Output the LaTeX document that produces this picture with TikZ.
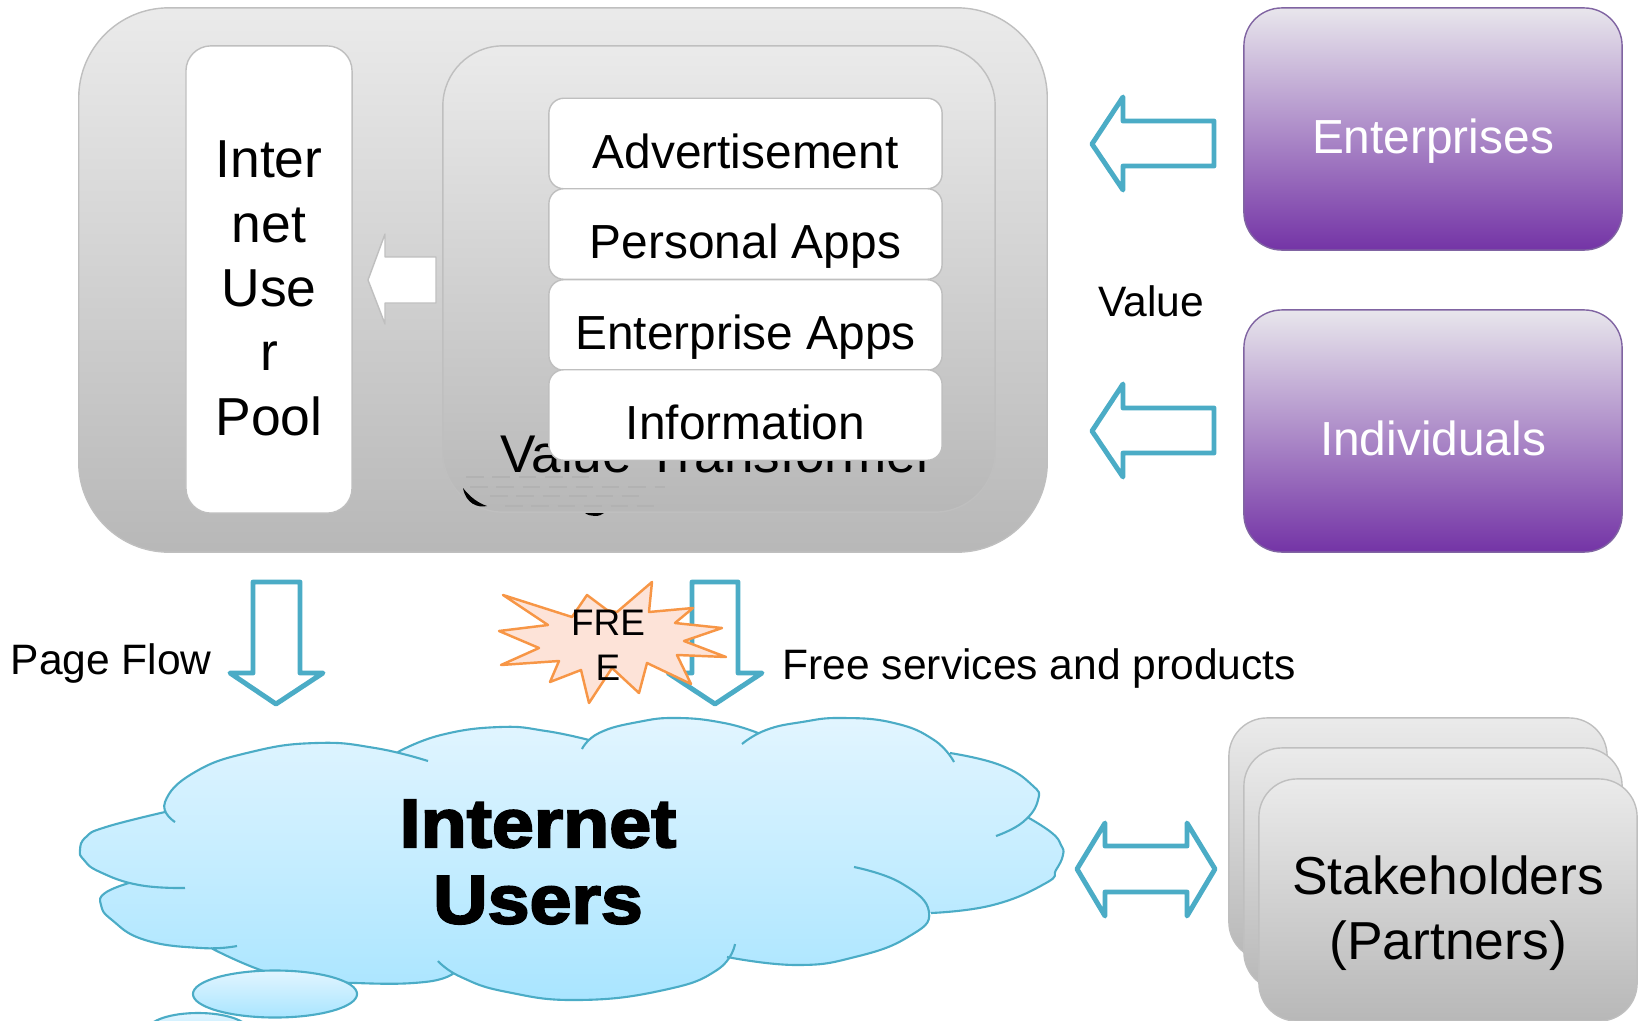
\documentclass[tikz,border=0pt]{standalone}
\usepackage{fontspec}
\setmainfont{Liberation Sans}
\newfontfamily\heavyfont[BoldFeatures={FakeStretch=1.1,FakeBold=3}]{Liberation Sans}
\usetikzlibrary{shapes.geometric}
\definecolor{arrowblue}{HTML}{4BACC6}
\definecolor{purpletop}{HTML}{E8E6EC}
\definecolor{purplebottom}{HTML}{7434A6}
\definecolor{purpleedge}{HTML}{8064A2}
\definecolor{cloudtop}{HTML}{E2F5FF}
\definecolor{cloudbottom}{HTML}{A9E5FF}
\definecolor{staredge}{HTML}{F79646}
\definecolor{starfill}{HTML}{FDE3D8}
\tikzset{
  graybox/.style={draw=black!25,top color=black!8,bottom color=black!28,rounded corners=#1},
  graybox/.default=0.38cm,
  purplebox/.style={draw=purpleedge,top color=purpletop,bottom color=purplebottom,text=white,rounded corners=0.38cm,
    minimum width=3.78cm,minimum height=2.42cm,font=\fontsize{13.6}{16}\selectfont,text height=14pt,text depth=0pt},
  whitebox/.style={draw=black!25,fill=white,rounded corners=0.15cm,minimum width=3.93cm,minimum height=0.905cm,
    font=\fontsize{13.6}{16}\selectfont,text height=14pt,text depth=0pt},
  blockarrow/.style={draw=arrowblue,fill=white,line width=1.4pt,line join=round},
  cloudshade/.style={top color=cloudtop,bottom color=cloudbottom},
  cloudline/.style={draw=arrowblue,line width=0.6pt},
  toptext/.style={align=center,inner sep=0pt},
  label/.style={inner sep=0pt,font=\fontsize{12.1}{14}\selectfont}
}
\newcommand{\cloudlobes}[1]{
  plot[smooth,tension=0.8] coordinates {(175,822) (165,802) (195,772) (251,752) (316,743) (375,748) (428,761)} #1
  plot[smooth,tension=0.8] coordinates {(398,752) (441,735) (500,727) (546,731) (589,740)} #1
  plot[smooth,tension=0.8] coordinates {(582,749) (599,733) (638,722) (678,718) (724,723) (758,733)} #1
  plot[smooth,tension=0.8] coordinates {(742,744) (766,730) (802,722) (842,718) (894,723) (934,740) (954,762)} #1
  plot[smooth,tension=0.8] coordinates {(950,753) (1000,765) (1032,785) (1038,800) (1023,822) (996,836)} #1
  plot[smooth,tension=0.8] coordinates {(1029,818) (1052,833) (1061,845) (1063,855) (1056,870) (1046,883) (993,905) (931,913)} #1
  plot[smooth,tension=0.8] coordinates {(854,867) (901,883) (929,912) (908,937) (855,957) (796,965) (727,957)} #1
  plot[smooth,tension=0.8] coordinates {(735,944) (717,970) (664,990) (579,1000) (507,992) (461,977) (438,961)} #1
  plot[smooth,tension=0.8] coordinates {(454,973) (425,982) (356,983) (283,977) (211,948)} #1
  plot[smooth,tension=0.8] coordinates {(237,946) (201,948) (145,940) (112,920) (101,905) (105,893) (129,883)} #1
  plot[smooth,tension=0.8] coordinates {(185,888) (139,885) (100,872) (84,860) (80,850) (86,837) (106,827) (165,812)}
}
\begin{document}
\begin{tikzpicture}[x=0.01cm,y=-0.01cm]
  \useasboundingbox (0,0) rectangle (1639,1021);
  %pannello
  \node[graybox=0.9cm,minimum width=9.68cm,minimum height=5.44cm] (panel) at (563,280) {};
  \node[graybox=0.25cm,draw=black!25,top color=white,bottom color=white,minimum width=1.66cm,minimum height=4.67cm] (poolbox) at (269,279.5) {};
  \node[toptext,font=\fontsize{15.2}{18.3}\selectfont] (poollabel) at (269,288.5) {Inter\\net\\Use\\r\\Pool};
  \node[graybox=0.6cm,minimum width=5.52cm,minimum height=4.66cm] (transformer) at (719,279) {};
  \node[anchor=base,inner sep=0pt,font=\fontsize{15.1}{17}\selectfont] (transformerlabel) at (717,472) {Value Transformer};
  \fill (463,488) .. controls (466,504) and (478,508) .. (487,506) .. controls (478,503) and (470,497) .. (463,488) -- cycle;
  \fill (585,513) .. controls (590,517) and (600,517) .. (604,513) -- cycle;
  \foreach \y/\xa/\xb in {477/466/590,487/470/665,496/490/645,506/505/655}
    \draw[black!30,dash pattern=on 5pt off 2.5pt,line width=0.4pt] (\xa,\y) -- (\xb,\y);
  \node[whitebox] (adbox) at (745.5,143.5) {Advertisement};
  \node[whitebox] (personalbox) at (745.5,234) {Personal Apps};
  \node[whitebox] (enterprisebox) at (745.5,325) {Enterprise Apps};
  \node[whitebox] (infobox) at (745.5,415) {Information};
  \draw[draw=black!25,fill=white,line width=0.4pt,line join=round] (368,280) -- (385,234) -- (385,257) -- (436,257) -- (436,303) -- (385,303) -- (385,324) -- cycle;
  %lato destro
  \node[purplebox] (enterprises) at (1433,129) {Enterprises};
  \node[purplebox] (individuals) at (1433,431) {Individuals};
  \draw[blockarrow] (1092,144) -- (1123,97) -- (1123,121) -- (1214,121) -- (1214,166) -- (1123,166) -- (1123,190) -- cycle;
  \draw[blockarrow] (1092,431) -- (1123,384) -- (1123,408) -- (1214,408) -- (1214,453) -- (1123,453) -- (1123,477) -- cycle;
  \node[label,anchor=base] (valuelabel) at (1151,316) {Value};
  %frecce in basso
  \draw[blockarrow] (253,582) -- (300,582) -- (300,673) -- (323,673) -- (276,704) -- (230,673) -- (253,673) -- cycle;
  \draw[blockarrow] (692,582) -- (738,582) -- (738,673) -- (762,673) -- (715,704) -- (668,673) -- (692,673) -- cycle;
  \node[label,anchor=base west] (pageflow) at (10,674) {Page Flow};
  \node[label,anchor=base west] (freeservices) at (782,679) {Free services and products};
  \draw[draw=staredge,fill=starfill,line width=0.7pt,line join=round] (503,595) -- (572,617) -- (587,595) -- (607,610) -- (617,612) -- (652,582) -- (649,612) -- (693,608) -- (675,623) -- (722,628) -- (684,641) -- (726,657) -- (677,655) -- (691,684) -- (647,663) -- (639,693) -- (612,668) -- (589,703) -- (581,670) -- (550,682) -- (559,661) -- (501,665) -- (539,648) -- (499,631) -- (548,625) -- cycle;
  \node[toptext,font=\fontsize{10.5}{12.8}\selectfont] (freelabel) at (608,645) {FRE\\E};
  %nuvola
  \path[cloudshade] \cloudlobes{--} -- cycle;
  \draw[cloudline] \cloudlobes{};
  \node[ellipse,cloudline,cloudshade,inner sep=0pt,minimum width=1.64cm,minimum height=0.47cm] (bubble) at (275,994) {};
  \node[ellipse,cloudline,cloudshade,inner sep=0pt,minimum width=1.0cm,minimum height=0.34cm] (smallbubble) at (198,1030) {};
  \node[toptext,font=\heavyfont\bfseries\fontsize{19.5}{21.7}\selectfont] (userslabel) at (538,862) {Internet\\Users};
  %partner
  \draw[blockarrow] (1077,869) -- (1105,823) -- (1105,846) -- (1187,846) -- (1187,823) -- (1215,869) -- (1187,916) -- (1187,892) -- (1105,892) -- (1105,916) -- cycle;
  \node[graybox,minimum width=3.78cm,minimum height=2.42cm] (partnerback) at (1418,839) {};
  \node[graybox,minimum width=3.78cm,minimum height=2.42cm] (partnermid) at (1433,869) {};
  \node[graybox,minimum width=3.78cm,minimum height=2.42cm] (partnerfront) at (1448,900) {};
  \node[toptext,font=\fontsize{15.2}{18.4}\selectfont] (partnerlabel) at (1448,913) {Stakeholders\\(Partners)};
\end{tikzpicture}
\end{document}
